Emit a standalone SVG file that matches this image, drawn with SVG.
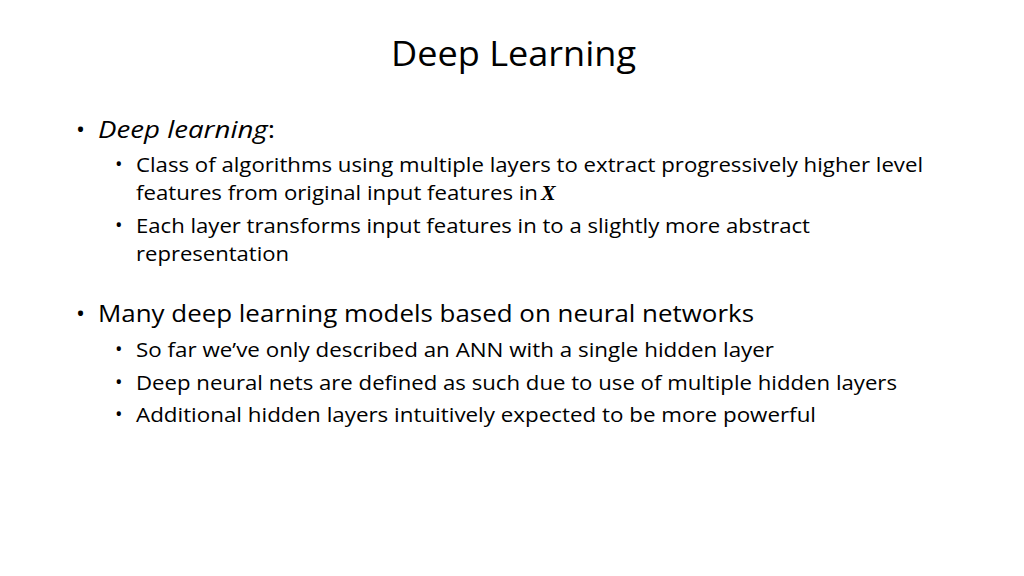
<svg xmlns="http://www.w3.org/2000/svg" width="1024" height="576" viewBox="0 0 1024 576">
<style>
text{font-family:"Open Sans","Liberation Sans",sans-serif;fill:#000}
.t{font-size:34px}
.b1{font-size:24px}
.b2{font-size:20px}
</style>
<rect width="1024" height="576" fill="#fff"/>
<g id="title"><text class="t" x="391" y="66" textLength="245" lengthAdjust="spacingAndGlyphs">Deep Learning</text></g>
<g id="body">
<text class="b1" x="76" y="138">•</text>
<text class="b1" x="98" y="138" textLength="177" lengthAdjust="spacingAndGlyphs"><tspan font-style="italic">Deep learning</tspan>:</text>
<text class="b2" x="115" y="171">•</text>
<text class="b2" x="136" y="172" textLength="787" lengthAdjust="spacingAndGlyphs">Class of algorithms using multiple layers to extract progressively higher level</text>
<text class="b2" x="136" y="200" textLength="402" lengthAdjust="spacingAndGlyphs">features from original input features in</text>
<text x="541" y="200" style="font-family:'Liberation Serif',serif;font-size:22px;font-weight:bold;font-style:italic">X</text>
<text class="b2" x="115" y="232">•</text>
<text class="b2" x="136" y="233" textLength="674" lengthAdjust="spacingAndGlyphs">Each layer transforms input features in to a slightly more abstract</text>
<text class="b2" x="136" y="261" textLength="153" lengthAdjust="spacingAndGlyphs">representation</text>
<text class="b1" x="76" y="322">•</text>
<text class="b1" x="98" y="322" textLength="656" lengthAdjust="spacingAndGlyphs">Many deep learning models based on neural networks</text>
<text class="b2" x="115" y="356">•</text>
<text class="b2" x="136" y="357" textLength="638" lengthAdjust="spacingAndGlyphs">So far we’ve only described an ANN with a single hidden layer</text>
<text class="b2" x="115" y="389">•</text>
<text class="b2" x="136" y="390" textLength="761" lengthAdjust="spacingAndGlyphs">Deep neural nets are defined as such due to use of multiple hidden layers</text>
<text class="b2" x="115" y="421">•</text>
<text class="b2" x="136" y="422" textLength="680" lengthAdjust="spacingAndGlyphs">Additional hidden layers intuitively expected to be more powerful</text>
</g>
</svg>
